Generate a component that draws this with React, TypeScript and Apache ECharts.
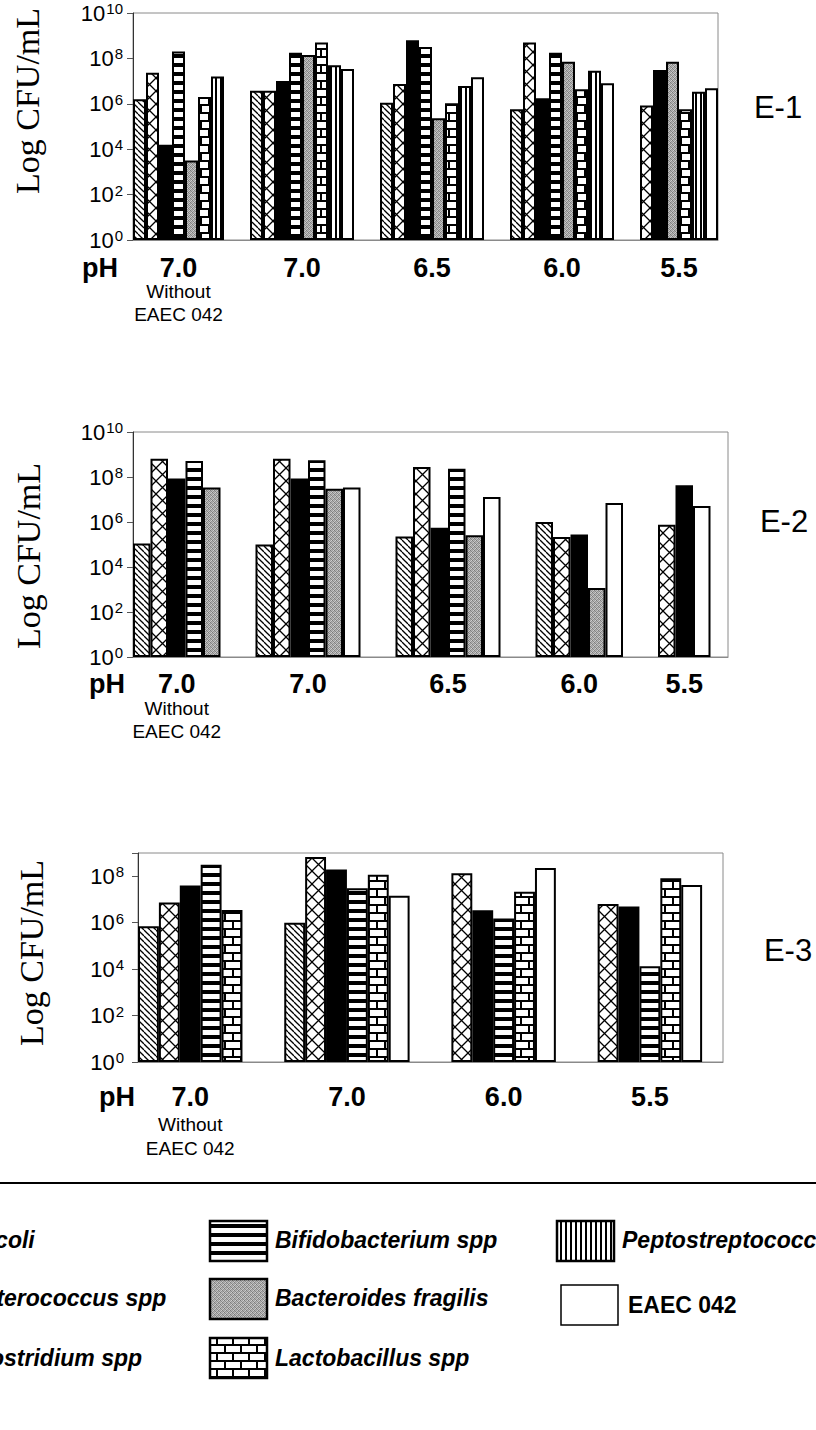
import React, { useEffect, useRef } from 'react';
import * as echarts from 'echarts';

// ---------------- data (log10 CFU/mL) ----------------
const SPECIES = [
  'E. coli',
  'Enterococcus spp',
  'Clostridium spp',
  'Bifidobacterium spp',
  'Bacteroides fragilis',
  'Lactobacillus spp',
  'Peptostreptococcus spp',
  'EAEC 042',
];

const E1_GROUPS = ['7.0', '7.0', '6.5', '6.0', '5.5'];
const E1_ECOLI = [6.2, 6.58, 6.05, 5.76, null];
const E1_ENTERO = [7.37, 6.58, 6.87, 8.7, 5.92];
const E1_CLOST = [4.2, 7.0, 8.8, 6.24, 7.49];
const E1_BIFIDO = [8.3, 8.25, 8.5, 8.25, null];
const E1_BACT = [3.5, 8.15, 5.36, 7.85, 7.85];
const E1_LACTO = [6.3, 8.7, 6.02, 6.64, 5.76];
const E1_PEPTO = [7.2, 7.7, 6.78, 7.46, 6.53];
const E1_EAEC = [null, 7.53, 7.17, 6.9, 6.68];

const E2_GROUPS = ['7.0', '7.0', '6.5', '6.0', '5.5'];
const E2_ECOLI = [5.04, 5.0, 5.36, 6.0, null];
const E2_ENTERO = [8.81, 8.81, 8.44, 5.33, 5.88];
const E2_CLOST = [7.93, 7.93, 5.75, 5.45, 7.63];
const E2_BIFIDO = [8.71, 8.74, 8.37, null, null];
const E2_BACT = [7.53, 7.48, 5.41, 3.07, null];
const E2_LACTO = [null, null, null, null, null];
const E2_PEPTO = [null, null, null, null, null];
const E2_EAEC = [null, 7.53, 7.11, 6.84, 6.71];

const E3_GROUPS = ['7.0', '7.0', '6.0', '5.5'];
const E3_ECOLI = [5.85, 6.0, null, null];
const E3_ENTERO = [6.87, 8.83, 8.13, 6.8];
const E3_CLOST = [7.6, 8.29, 6.54, 6.7];
const E3_BIFIDO = [8.49, 7.48, 6.18, 4.12];
const E3_BACT = [null, null, null, null];
const E3_LACTO = [6.55, 8.06, 7.33, 7.91];
const E3_PEPTO = [null, null, null, null];
const E3_EAEC = [null, 7.16, 8.35, 7.62];

const Y_TICKS = [0, 2, 4, 6, 8, 10];

// ---------------- layout ----------------
const PANELS = [
  {
    name: 'E-1', groups: E1_GROUPS,
    values: [E1_ECOLI, E1_ENTERO, E1_CLOST, E1_BIFIDO, E1_BACT, E1_LACTO, E1_PEPTO, E1_EAEC],
    left: 133, top: 13, width: 585, height: 227, yMax: 10, slots: 45, starts: [0, 9, 19, 29, 39],
    phX: 100, phY: 268, subY: [291, 314], titleX: 27, titleY: 101, tagX: 778, tagY: 107, labelMargin: 10,
  },
  {
    name: 'E-2', groups: E2_GROUPS,
    values: [E2_ECOLI, E2_ENTERO, E2_CLOST, E2_BIFIDO, E2_BACT, E2_LACTO, E2_PEPTO, E2_EAEC],
    left: 133, top: 432, width: 595, height: 225, yMax: 10, slots: 34, starts: [0, 7, 15, 23, 30],
    phX: 107, phY: 684, subY: [708, 731], titleX: 28, titleY: 556, tagX: 784, tagY: 521, labelMargin: 10,
  },
  {
    name: 'E-3', groups: E3_GROUPS,
    values: [E3_ECOLI, E3_ENTERO, E3_CLOST, E3_BIFIDO, E3_BACT, E3_LACTO, E3_PEPTO, E3_EAEC],
    left: 138, top: 853, width: 585, height: 209, yMax: 9, slots: 28, starts: [0, 7, 15, 22],
    phX: 117, phY: 1097, subY: [1124, 1148], titleX: 31, titleY: 953, tagX: 788, tagY: 950, labelMargin: 14,
  },
];

const SANS = '"Liberation Sans", Arial, Helvetica, sans-serif';
const SERIF = '"Liberation Serif", "Times New Roman", serif';

// ---------------- patterns ----------------
function tile(w: number, h: number, draw: (ctx: CanvasRenderingContext2D) => void) {
  const c = document.createElement('canvas');
  c.width = w;
  c.height = h;
  const ctx = c.getContext('2d') as CanvasRenderingContext2D;
  ctx.fillStyle = '#fff';
  ctx.fillRect(0, 0, w, h);
  ctx.fillStyle = '#000';
  ctx.strokeStyle = '#000';
  draw(ctx);
  return { image: c, repeat: 'repeat' };
}

function makePatterns(): any[] {
  const diag = tile(6, 6, (ctx) => {
    ctx.lineWidth = 1.3;
    for (const d of [-6, 0, 6]) {
      ctx.beginPath();
      ctx.moveTo(d, 0);
      ctx.lineTo(d + 6, 6);
      ctx.stroke();
    }
  });
  const cross = tile(13, 13, (ctx) => {
    ctx.lineWidth = 1.3;
    for (const d of [-13, 0, 13]) {
      ctx.beginPath();
      ctx.moveTo(d, 0);
      ctx.lineTo(d + 13, 13);
      ctx.moveTo(d + 13, 0);
      ctx.lineTo(d, 13);
      ctx.stroke();
    }
  });
  const hstripe = tile(4, 9, (ctx) => {
    ctx.fillRect(0, 0, 4, 4);
  });
  const gray = tile(4, 4, (ctx) => {
    const vals = [0x78, 0xbe, 0x9c, 0xd0, 0xb2, 0x8a, 0xc6, 0x94, 0x9e, 0xcc, 0x7c, 0xb4, 0xc2, 0x90, 0xae, 0x86];
    const img = ctx.createImageData(4, 4);
    for (let i = 0; i < 16; i++) {
      img.data[i * 4] = vals[i];
      img.data[i * 4 + 1] = vals[i];
      img.data[i * 4 + 2] = vals[i];
      img.data[i * 4 + 3] = 255;
    }
    ctx.putImageData(img, 0, 0);
  });
  const brick = tile(16, 16, (ctx) => {
    ctx.fillRect(0, 0, 16, 2);
    ctx.fillRect(0, 8, 16, 2);
    ctx.fillRect(0, 0, 2, 8);
    ctx.fillRect(8, 8, 2, 8);
  });
  const vstripe = tile(5, 4, (ctx) => {
    ctx.fillRect(0, 0, 2, 4);
  });
  return [diag, cross, '#000000', hstripe, gray, brick, vstripe, '#ffffff'];
}

function buildSlots(panel: any, s: number) {
  const data: any[] = new Array(panel.slots).fill('-');
  panel.groups.forEach((_g: string, gi: number) => {
    let pos = panel.starts[gi];
    for (let k = 0; k < SPECIES.length; k++) {
      const v = panel.values[k][gi];
      if (v !== null && v !== undefined) {
        if (k === s) data[pos] = v;
        pos++;
      }
    }
  });
  return data;
}

function groupSlotRange(panel: any, gi: number) {
  let n = 0;
  for (let k = 0; k < SPECIES.length; k++) {
    const v = panel.values[k][gi];
    if (v !== null && v !== undefined) n++;
  }
  return [panel.starts[gi], panel.starts[gi] + n - 1];
}

function txt(text: string, x: number, y: number, font: string, align = 'center', extra: any = {}) {
  return {
    type: 'text',
    x,
    y,
    silent: true,
    ...extra,
    style: { text, font, fill: '#000', align, verticalAlign: 'middle', textAlign: align, textVerticalAlign: 'middle' },
  };
}

export default function App() {
  const ref = useRef<HTMLDivElement>(null);

  useEffect(() => {
    if (!ref.current) return;
    const chart = echarts.init(ref.current, null, { renderer: 'svg' });
    const patterns = makePatterns();

    const grid: any[] = [];
    const xAxis: any[] = [];
    const yAxis: any[] = [];
    const series: any[] = [];

    PANELS.forEach((p, pi) => {
      grid.push({
        left: p.left, top: p.top, width: p.width, height: p.height,
        show: true, borderColor: '#8a8a8a', borderWidth: 1, containLabel: false,
      });
      xAxis.push({
        type: 'category', gridIndex: pi,
        data: Array.from({ length: p.slots }, (_, i) => String(i)),
        axisLine: { show: true, lineStyle: { color: '#8a8a8a', width: 1 } },
        axisTick: { show: false }, axisLabel: { show: false }, splitLine: { show: false },
      });
      yAxis.push({
        type: 'value', gridIndex: pi, min: 0, max: p.yMax, interval: 2,
        axisLine: { show: true, lineStyle: { color: '#333', width: 1 } },
        axisTick: { show: true, length: 6, lineStyle: { color: '#555' } },
        splitLine: { show: false },
        axisLabel: {
          margin: p.labelMargin,
          formatter: (v: number) => (Y_TICKS.indexOf(v) >= 0 && v <= p.yMax ? `{a|10}{b|${v}}` : ''),
          rich: {
            a: { fontFamily: SANS, fontSize: 22, color: '#000' },
            b: { fontFamily: SANS, fontSize: 15, color: '#000', verticalAlign: 'top', padding: [0, 0, 9, 1] },
          },
        },
      });
      SPECIES.forEach((sp, si) => {
        const has = p.values[si].some((v: any) => v !== null);
        if (!has) return;
        series.push({
          type: 'bar', name: sp, xAxisIndex: pi, yAxisIndex: pi,
          data: buildSlots(p, si),
          barGap: '-100%', barCategoryGap: '0%',
          itemStyle: { color: patterns[si], borderColor: '#000', borderWidth: 2 },
          emphasis: { disabled: true },
        });
      });
    });

    chart.setOption({
      animation: false,
      backgroundColor: '#fff',
      grid, xAxis, yAxis, series,
    });

    // texts placed from the axes' own pixel conversion
    const graphic: any[] = [];
    PANELS.forEach((p, pi) => {
      graphic.push(txt('Log CFU/mL', p.titleX, p.titleY, `34px ${SERIF}`, 'center', { rotation: Math.PI / 2 }));
      graphic.push(txt(p.name, p.tagX, p.tagY, `31px ${SANS}`));
      graphic.push(txt('pH', p.phX, p.phY, `bold 27px ${SANS}`));
      p.groups.forEach((g: string, gi: number) => {
        const [a, b] = groupSlotRange(p, gi);
        const xa = chart.convertToPixel({ xAxisIndex: pi } as any, a) as any as number;
        const xb = chart.convertToPixel({ xAxisIndex: pi } as any, b) as any as number;
        const cx = (xa + xb) / 2;
        graphic.push(txt(g, cx, p.phY, `bold 27px ${SANS}`));
        if (gi === 0) {
          graphic.push(txt('Without', cx, p.subY[0], `19px ${SANS}`));
          graphic.push(txt('EAEC 042', cx, p.subY[1], `19px ${SANS}`));
        }
      });
    });

    // legend
    graphic.push({ type: 'line', silent: true, shape: { x1: 0, y1: 1183, x2: 816, y2: 1183 }, style: { stroke: '#000', lineWidth: 2 } });
    const legendCols = [
      { boxX: -97, textX: -33, items: [0, 1, 2] },
      { boxX: 210, textX: 275, items: [3, 4, 5] },
      { boxX: 557, textX: 622, items: [6, 7] },
    ];
    const rowBoxTop = [1221, 1279, 1338];
    const rowTextY = [1240, 1298, 1358];
    legendCols.forEach((col) => {
      col.items.forEach((si, ri) => {
        const isEaec = si === 7;
        const bx = isEaec ? col.boxX + 4 : col.boxX;
        const by = isEaec ? 1285 : rowBoxTop[ri];
        graphic.push({
          type: 'rect', silent: true,
          shape: { x: bx, y: by, width: 57, height: 40 },
          style: { fill: patterns[si], stroke: '#000', lineWidth: isEaec ? 1.5 : 2.5 },
        });
        graphic.push(txt(SPECIES[si], isEaec ? col.textX + 6 : col.textX, isEaec ? 1305 : rowTextY[ri],
          isEaec ? `bold 23px ${SANS}` : `italic bold 23px ${SANS}`, 'left'));
      });
    });

    chart.setOption({ graphic });

    return () => chart.dispose();
  }, []);

  return (
    <div
      ref={ref}
      style={{ position: 'absolute', left: 0, top: 0, width: 816, height: 1430, background: '#fff' }}
    />
  );
}
